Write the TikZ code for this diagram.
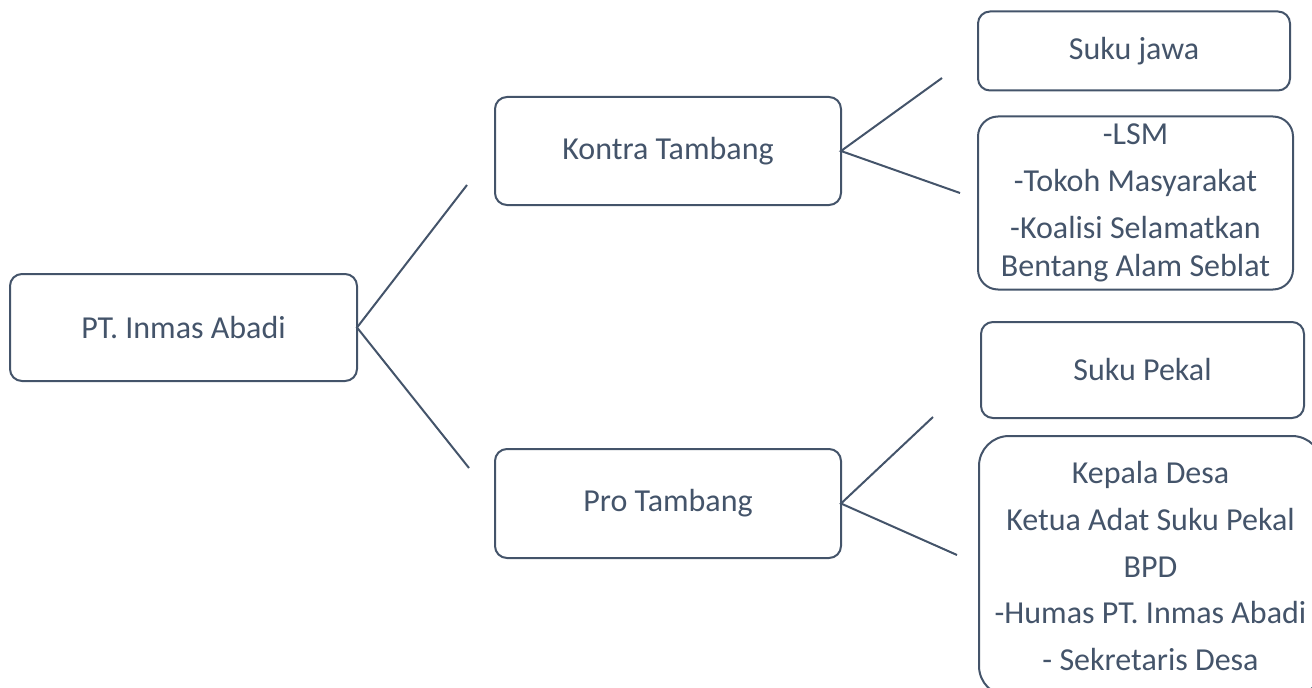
\documentclass[tikz,border=0pt]{standalone}
\usepackage{fontspec}
\setmainfont{Carlito}
\definecolor{slate}{HTML}{44546A}
\newcommand{\pxu}{0.75pt}
\begin{document}
\begin{tikzpicture}[x=0.75pt,y=-0.75pt,
  box/.style={draw=slate, line width=1.5pt, rounded corners={12*\pxu}, text=slate,
    align=center, inner sep=0pt, outer sep=0pt,
    font=\fontsize{24}{35}\selectfont},
  link/.style={draw=slate, line width=1.5pt}]
\useasboundingbox (0,0) rectangle (1312,688);
\clip (0,0) rectangle (1312,688);
\node[box, minimum width={347*\pxu}, minimum height={107*\pxu}] (pt) at (183.5,327.5) {PT. Inmas Abadi};
\node[box, minimum width={346*\pxu}, minimum height={108*\pxu}] (kontra) at (668,151) {Kontra Tambang};
\node[box, minimum width={346*\pxu}, minimum height={109*\pxu}] (pro) at (668,503.5) {Pro Tambang};
\node[box, minimum width={312*\pxu}, minimum height={79*\pxu}] (jawa) at (1134,51) {Suku jawa};
\node[box, rounded corners={20*\pxu}, minimum width={315*\pxu}, minimum height={173*\pxu}, font=\fontsize{24}{28.5}\selectfont] (lsm) at (1135.5,203) {-LSM\\[7pt]-Tokoh Masyarakat\\[6.5pt]-Koalisi Selamatkan\\Bentang Alam Seblat};
\node[box, minimum width={323*\pxu}, minimum height={96*\pxu}] (pekal) at (1142.5,370) {Suku Pekal};
\node[box, rounded corners={30*\pxu}, minimum width={343*\pxu}, minimum height={260*\pxu}] (kepala) at (1150.5,566) {Kepala Desa\\Ketua Adat Suku Pekal\\BPD\\-Humas PT. Inmas Abadi\\- Sekretaris Desa};
\coordinate (a1) at (467,185);
\coordinate (a2) at (469,468);
\coordinate (b1) at (942,78);
\coordinate (b2) at (960,193);
\coordinate (c1) at (933,417);
\coordinate (c2) at (957,555);
\draw[link] (a1) -- (pt.east) -- (a2);
\draw[link] (b1) -- (kontra.east) -- (b2);
\draw[link] (c1) -- (pro.east) -- (c2);
\end{tikzpicture}
\end{document}
